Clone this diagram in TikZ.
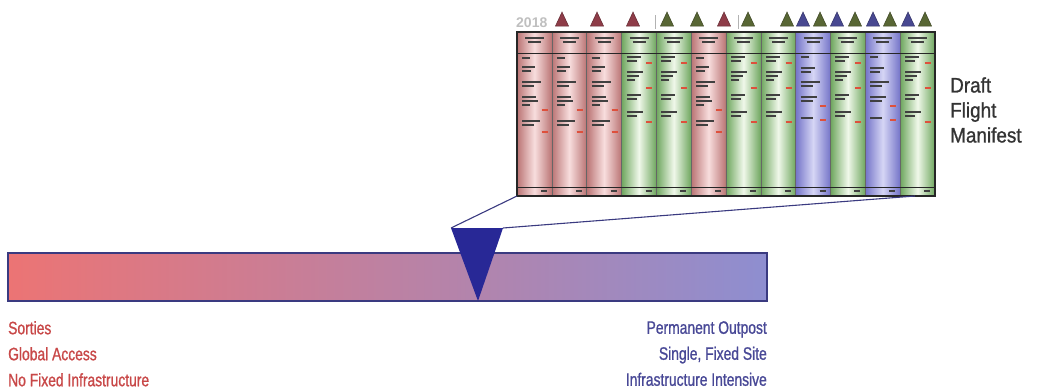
\documentclass[tikz,border=0pt]{standalone}
\usepackage{fontspec}
\setmainfont{Liberation Sans}
\newfontfamily\narrowsans[FakeStretch=0.77, FakeBold=1]{Liberation Sans}
\newfontfamily\draftsans[FakeStretch=0.9, FakeBold=1]{Liberation Sans}
\usetikzlibrary{positioning,calc}
% palette
\definecolor{barRed}{RGB}{236,116,116}
\definecolor{barBlue}{RGB}{142,142,208}
\definecolor{barEdge}{RGB}{58,58,128}
\definecolor{pointerBlue}{RGB}{40,40,150}
\definecolor{lowRed}{RGB}{200,72,72}
\definecolor{highBlue}{RGB}{72,72,150}
\definecolor{redge}{RGB}{186,116,116}
\definecolor{rmid}{RGB}{248,222,222}
\definecolor{gedge}{RGB}{110,166,94}
\definecolor{gmid}{RGB}{240,248,234}
\definecolor{bedge}{RGB}{116,116,200}
\definecolor{bmid}{RGB}{214,214,245}
\definecolor{rtri}{RGB}{142,60,72}
\definecolor{gtri}{RGB}{88,102,52}
\definecolor{btri}{RGB}{72,72,145}
\tikzset{
	scalebar/.style={draw=barEdge, line width=1.1pt, left color=barRed, right color=barBlue,
		minimum width=759pt, minimum height=48pt, inner sep=0pt, outer sep=0pt},
	manifest/.style={draw=black!85, line width=1.3pt, minimum width=418pt, minimum height=164pt,
		inner sep=0pt, outer sep=0pt},
	endlabel/.style={font=\narrowsans\fontsize{18}{26}\selectfont, inner sep=0pt},
	draftlabel/.style={font=\draftsans\fontsize{21}{25}\selectfont, text=black!80, align=left, inner sep=0pt},
	yearlabel/.style={font=\fontsize{14}{14}\selectfont\bfseries, text=black!25, inner sep=0pt},
	zoomline/.style={draw=barEdge, line width=1.1pt},
	colrule/.style={draw=black!60, line width=0.6pt},
	framerule/.style={draw=black!85, line width=1pt},
	scribble/.style={draw=black!75, line width=1.3pt},
	reddash/.style={draw={rgb,255:red,222;green,80;blue,60}, line width=1.3pt}
}
% body scribbles per column type (y/width)
\def\rlines{58/8, 67/13, 71/9, 82/19, 86/12, 97/14, 101/16, 105/8, 121/18, 125/12}
\def\glines{57/14, 61/10, 72/16, 76/12, 80/8, 95/14, 99/10, 112/16, 116/10}
\def\blines{57/8, 68/14, 72/10, 82/19, 86/12, 97/16, 101/12, 118/12}
\def\rdashes{110, 132}
\def\gdashes{63, 88, 122}
\def\bdashes{106, 120}
\def\colw{34.83}

\begin{document}
\begin{tikzpicture}[x=1pt, y=-1pt]
	\useasboundingbox (0,0) rectangle (1040,391);
	% manifest columns
	\foreach \c [count=\i from 0] in {r,r,r,g,g,r,g,g,b,g,b,g}{
		\pgfmathsetmacro\xl{517+\i*\colw}
		\shade[left color=\c edge, right color=\c edge, middle color=\c mid] (\xl,32) rectangle ++(\colw,164);
		\draw[scribble] (\xl+8,38) -- ++(19,0) (\xl+11,42) -- ++(13,0);
		\draw[scribble] (\xl+24,191) -- ++(6,0);
		\expandafter\let\expandafter\pat\csname\c lines\endcsname
		\foreach \y/\w in \pat {\draw[scribble] (\xl+5,\y) -- ++(\w,0);}
		\expandafter\let\expandafter\dsh\csname\c dashes\endcsname
		\foreach \y in \dsh {\draw[reddash] (\xl+\colw-10,\y) -- ++(6,0);}
	}
	\foreach \i in {1,...,11} \draw[colrule] (517+\i*\colw,32) -- ++(0,164);
	\node[manifest] (frame) at (726,114) {};
	\draw[framerule] (517,53) -- (935,53) (517,187) -- (935,187);
	% timeline above the manifest
	\node[yearlabel, anchor=south west] (year) at (516,28) {2018};
	\foreach \x in {655,738} \draw[black!30, line width=0.6pt] (\x,15) -- (\x,29);
	\foreach \x/\c in {562/r,597/r,633/r,667/g,697/g,724/r,748/g,787/g,803/b,820/g,837/b,855/g,873/b,890/g,908/b,925/g}
		\filldraw[fill=\c tri, draw=\c tri!70!black, line width=0.5pt] (\x-6.5,26) -- (\x+6.5,26) -- (\x,12) -- cycle;
	\node[draftlabel, right=15pt of frame, yshift=4pt] (draft) {Draft\\Flight\\Manifest};
	% sliding scale
	\node[scalebar] (bar) at (387.5,277) {};
	\coordinate (ptl) at (451,228);
	\coordinate (ptr) at (503,228);
	\coordinate (ptip) at (478,301);
	\coordinate (mfend) at ([xshift=-20pt]frame.south east);
	\fill[pointerBlue] (ptl) -- (ptr) -- (ptip) -- cycle;
	\draw[zoomline] (ptl) -- (frame.south west);
	\draw[zoomline] (ptr) -- (mfend);
	\node[endlabel, text=lowRed, anchor=north west, align=left] (lowend) at ([yshift=-20pt]bar.south west) {Sorties\\Global Access\\No Fixed Infrastructure};
	\node[endlabel, text=highBlue, anchor=north east, align=right] (highend) at ([yshift=-20pt]bar.south east) {Permanent Outpost\\Single, Fixed Site\\Infrastructure Intensive};
\end{tikzpicture}
\end{document}
